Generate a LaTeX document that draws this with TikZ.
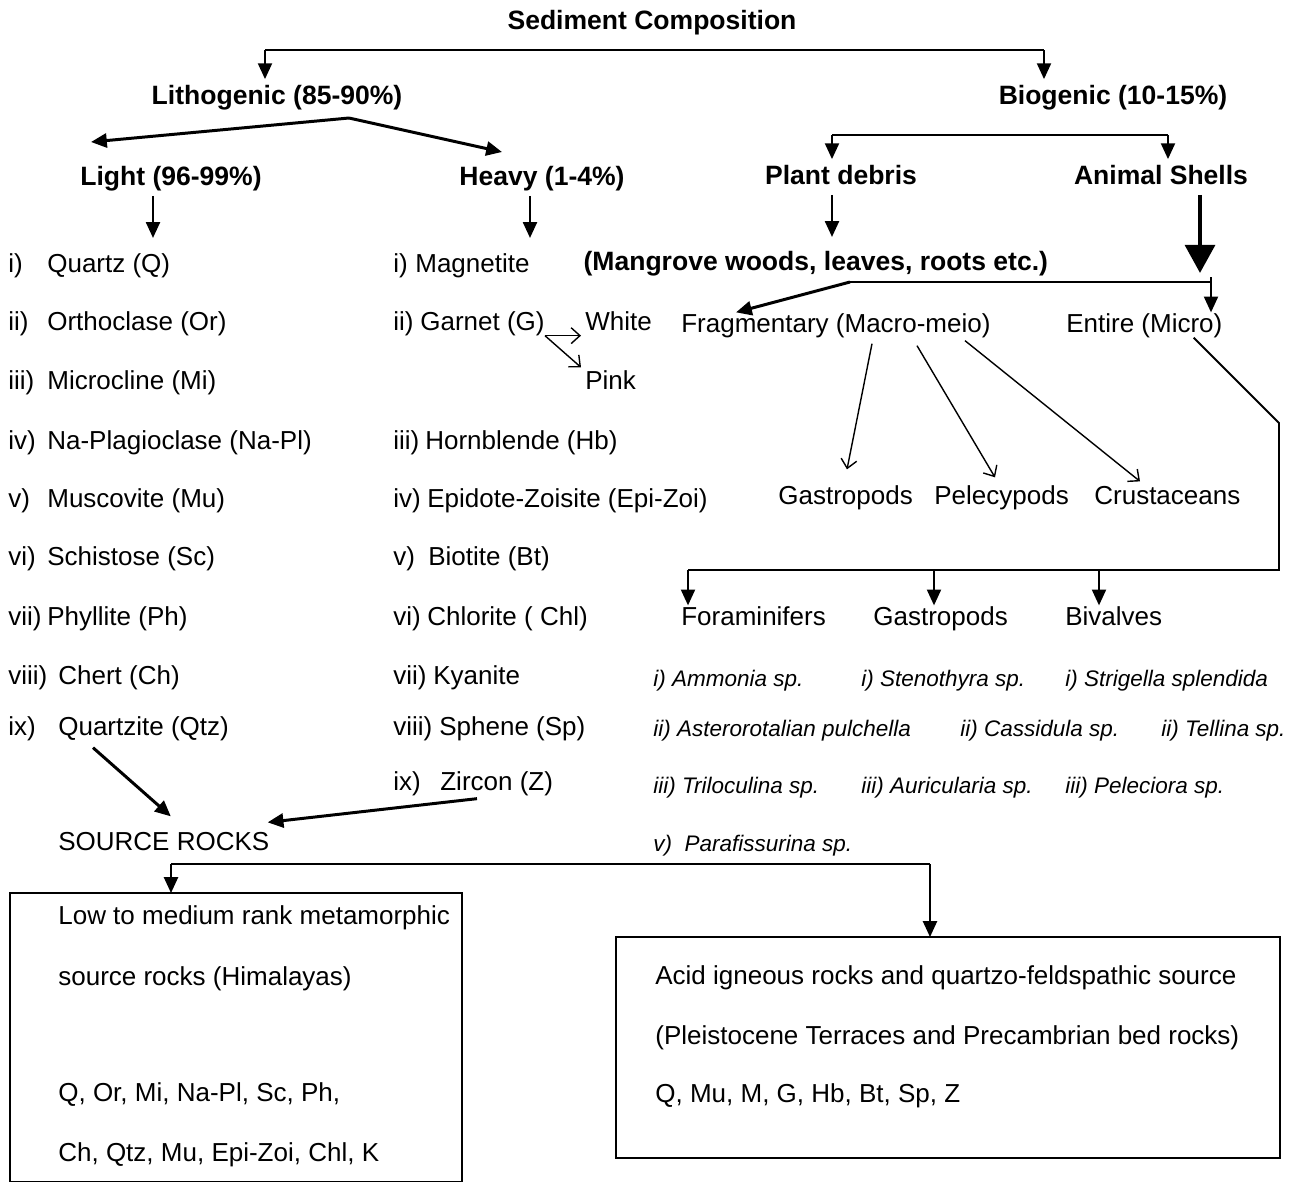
\documentclass[tikz,border=0pt]{standalone}
\usepackage{fontspec}
\setmainfont{Liberation Sans}
\usetikzlibrary{arrows.meta,positioning}

\tikzset{
  txt/.style={anchor=west, inner sep=0pt, text height=11pt, text depth=3pt,
    font=\fontsize{14.8}{17}\selectfont},
  hd/.style={inner sep=3pt, text height=11pt, text depth=3pt,
    font=\bfseries\fontsize{15.1}{17}\selectfont},
  spc/.style={anchor=west, inner sep=0pt, text height=10pt, text depth=3pt,
    font=\itshape\fontsize{12.8}{15}\selectfont},
  link/.style={line width=1.1pt},
  arr/.style={-{Triangle[length=9pt,width=8pt]}, line width=1.1pt},
  fatarr/.style={-{Triangle[length=9pt,width=8pt]}, line width=1.7pt},
  bigarr/.style={-{Triangle[length=16pt,width=17pt]}, line width=2.3pt},
  barb/.style={-{Straight Barb[length=5pt,width=9pt]}, line width=0.8pt},
  rim/.style={draw, line width=1.5pt},
}

\begin{document}
\begin{tikzpicture}[x=0.02cm, y=-0.02cm]
\useasboundingbox (0,0) rectangle (1299,1181);

% top level
\node[hd] (sed) at (652,22) {Sediment Composition};
\node[hd] (litho) at (277,97) {Lithogenic (85-90\%)};
\node[hd] (bio) at (1113,97) {Biogenic (10-15\%)};
\coordinate (sedL) at (265,50);
\coordinate (sedR) at (1044,50);
\draw[link] (sedL) -- (sedR);
\draw[arr] (sedL) -- (sedL |- litho.north);
\draw[arr] (sedR) -- (sedR |- bio.north);

% lithogenic
\node[hd] (light) at (171,178) {Light (96-99\%)};
\node[hd] (heavy) at (542,178) {Heavy (1-4\%)};
\coordinate (lsplit) at (349,118);
\coordinate (lightin) at (91,142);
\coordinate (heavyin) at (502,152);
\draw[fatarr] (lsplit) -- (lightin);
\draw[fatarr] (lsplit) -- (heavyin);
\draw[arr] ([shift={(-18,0)}]light.south) -- ++(0,42);
\draw[arr] ([shift={(-12,0)}]heavy.south) -- ++(0,42);

\foreach \yy/\num/\nm/\xx [count=\k] in {
  265/{i)}/{Quartz (Q)}/47, 323/{ii)}/{Orthoclase (Or)}/47,
  382/{iii)}/{Microcline (Mi)}/47, 442/{iv)}/{Na-Plagioclase (Na-Pl)}/47,
  500/{v)}/{Muscovite (Mu)}/47, 558/{vi)}/{Schistose (Sc)}/47,
  618/{vii)}/{Phyllite (Ph)}/47, 677/{viii)}/{Chert (Ch)}/58,
  728/{ix)}/{Quartzite (Qtz)}/58}
{
  \node[txt] (ln\k) at (8,\yy) {\num};
  \node[txt] (lt\k) at (\xx,\yy) {\nm};
}

\foreach \yy/\num/\nm/\xx [count=\k] in {
  265/{i)}/{Magnetite}/415, 323/{ii)}/{Garnet (G)}/420,
  442/{iii)}/{Hornblende (Hb)}/425, 500/{iv)}/{Epidote-Zoisite (Epi-Zoi)}/427,
  558/{v)}/{Biotite (Bt)}/428, 618/{vi)}/{Chlorite ( Chl)}/427,
  677/{vii)}/{Kyanite}/433, 728/{viii)}/{Sphene (Sp)}/439,
  783/{ix)}/{Zircon (Z)}/440}
{
  \node[txt] (hn\k) at (393,\yy) {\num};
  \node[txt] (hv\k) at (\xx,\yy) {\nm};
}

\node[txt] (white) at (585,323) {White};
\node[txt] (pink) at (585,382) {Pink};
\draw[barb] (hv2.south east) -- ([shift={(-4,0)}]white.south west);
\draw[barb] (hv2.south east) -- ([shift={(-4,-2)}]pink.north west);

% source rocks
\node[txt] (src) at (58,843) {SOURCE ROCKS};
\draw[fatarr] ([shift={(35,7)}]lt9.south west) -- ([shift={(7,-14)}]src.north);
\draw[fatarr] ([shift={(37,3)}]hv9.south west) -- ([shift={(-2,-8)}]src.north east);

\coordinate (rL) at (171,864);
\coordinate (rR) at (930,864);
\draw[rim] (10,893) rectangle (462,1182);
\draw[rim] (616,937) rectangle (1280,1158);
\coordinate (metatop) at (171,893);
\coordinate (acidtop) at (930,937);
\draw[link] (rL) -- (rR);
\draw[arr] (rL) -- (metatop);
\draw[arr] (rR) -- (acidtop);

\node[txt] (m1) at (58,917) {Low to medium rank metamorphic};
\node[txt] (m2) at (58,978) {source rocks (Himalayas)};
\node[txt] (m3) at (58,1094) {Q, Or, Mi, Na-Pl, Sc, Ph,};
\node[txt] (m4) at (58,1154) {Ch, Qtz, Mu, Epi-Zoi, Chl, K};
\node[txt] (a1) at (655,977) {Acid igneous rocks and quartzo-feldspathic source};
\node[txt] (a2) at (655,1037) {(Pleistocene Terraces and Precambrian bed rocks)};
\node[txt] (a3) at (655,1095) {Q, Mu, M, G, Hb, Bt, Sp, Z};

% biogenic
\node[hd] (plant) at (841,177) {Plant debris};
\node[hd] (shells) at (1161,177) {Animal Shells};
\coordinate (bL) at (832,135);
\coordinate (bR) at (1168,135);
\draw[link] (bL) -- (bR);
\draw[arr] (bL) -- (bL |- plant.north);
\draw[arr] (bR) -- (bR |- shells.north);
\draw[arr] (plant.south -| bL) -- ++(0,42);
\draw[bigarr] ([shift={(39,0)}]shells.south) -- ++(0,78);

\node[hd, anchor=west] (mangr) at (578,263) {(Mangrove woods, leaves, roots etc.)};
\node[txt] (frag) at (681,325) {Fragmentary (Macro-meio)};
\node[txt] (entire) at (1066,325) {Entire (Micro)};
\coordinate (mj) at (850,282);
\coordinate (mjR) at (1211,282);
\draw[link] (mj) -- (mjR);
\draw[arr] ([shift={(0,-5)}]mjR) -- (mjR |- entire.north);
\draw[fatarr] (mj) -- ([shift={(55,0)}]frag.north west);

\node[txt] (gastA) at (778,497) {Gastropods};
\node[txt] (pelec) at (934,497) {Pelecypods};
\node[txt] (crust) at (1094,497) {Crustaceans};
\draw[barb] ([shift={(191,6)}]frag.south west) -- ([shift={(69,-15)}]gastA.north west);
\draw[barb] ([shift={(236,8)}]frag.south west) -- ([shift={(61,-7)}]pelec.north west);
\draw[barb] ([shift={(284,3)}]frag.south west) -- ([shift={(46,-3)}]crust.north west);

\node[txt] (foram) at (681,618) {Foraminifers};
\node[txt] (gastB) at (873,618) {Gastropods};
\node[txt] (bival) at (1065,618) {Bivalves};
\coordinate (ek) at (1279,423);
\coordinate (eb) at (1279,570);
\coordinate (eL) at (688,570);
\coordinate (eG) at (934,570);
\coordinate (eV) at (1099,570);
\draw[link] ([shift={(-29,0)}]entire.south east) -- (ek) -- (eb) -- (eL);
\draw[arr] (eL) -- (eL |- foram.north);
\draw[arr] (eG) -- (eG |- gastB.north);
\draw[arr] (eV) -- (eV |- bival.north);

\node[spc] (fo1) at (653,680) {i) Ammonia sp.};
\node[spc] (ga1) at (861,680) {i) Stenothyra sp.};
\node[spc] (bv1) at (1065,680) {i) Strigella splendida};
\node[spc] (fo2) at (653,730) {ii) Asterorotalian pulchella};
\node[spc] (ga2) at (960,730) {ii) Cassidula sp.};
\node[spc] (bv2) at (1161,730) {ii) Tellina sp.};
\node[spc] (fo3) at (653,787) {iii) Triloculina sp.};
\node[spc] (ga3) at (861,787) {iii) Auricularia sp.};
\node[spc] (bv3) at (1065,787) {iii) Peleciora sp.};
\node[spc] (fo4) at (653,845) {v)\ \ Parafissurina sp.};
\end{tikzpicture}
\end{document}
